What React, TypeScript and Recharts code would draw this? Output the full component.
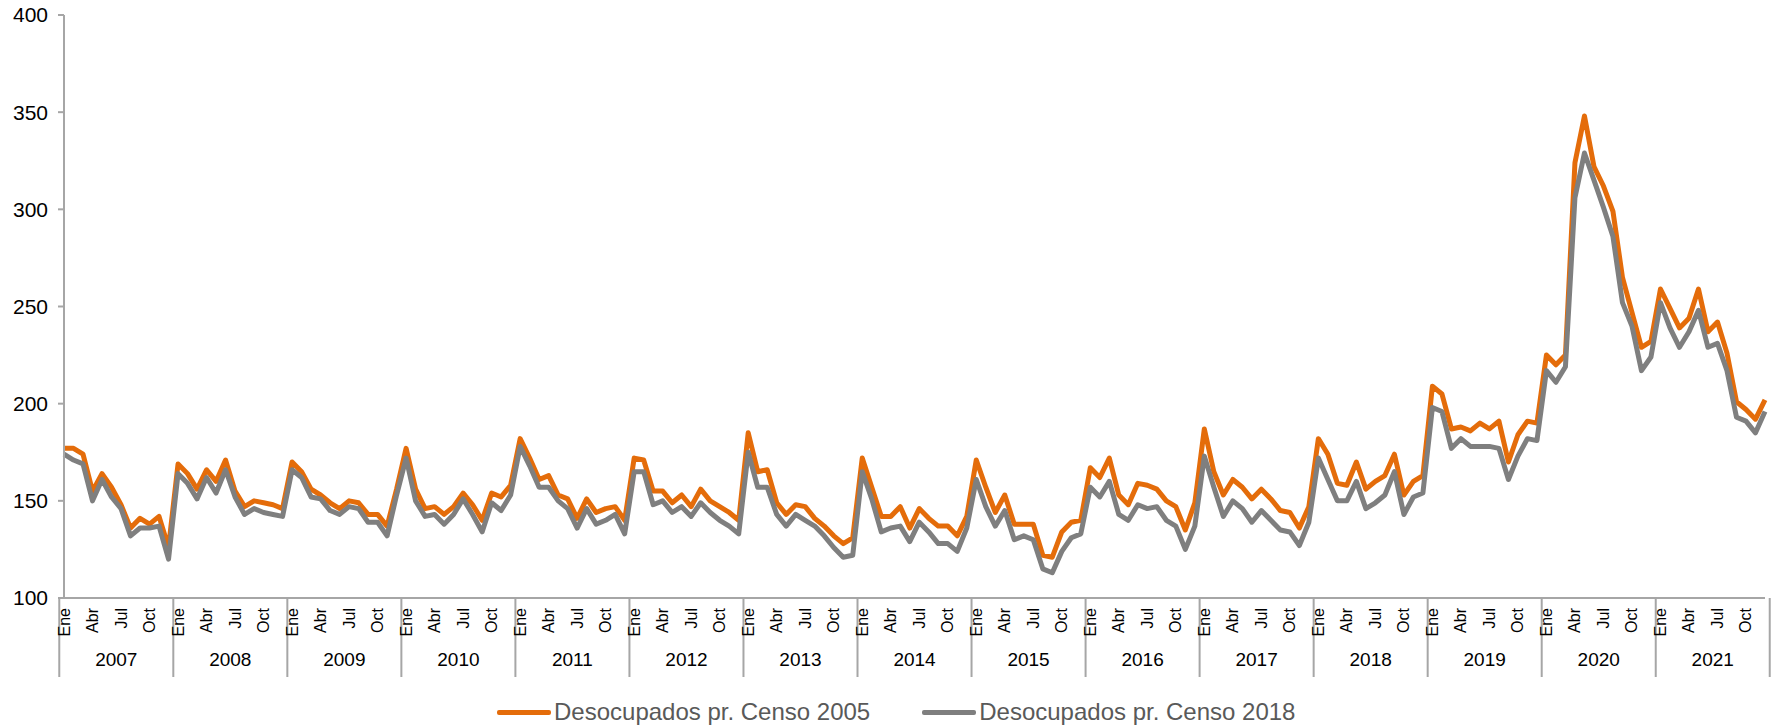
import { LineChart, Line, XAxis, YAxis } from "recharts"

const years = [2007, 2008, 2009, 2010, 2011, 2012, 2013, 2014, 2015, 2016, 2017, 2018, 2019, 2020, 2021]
const monthNames = ["Ene", "Feb", "Mar", "Abr", "May", "Jun", "Jul", "Ago", "Sep", "Oct", "Nov", "Dic"]
const yTicks = [100, 150, 200, 250, 300, 350, 400]

// Desocupados (miles), proyección Censo 2005
const censo2005 = [
  177, 177, 174, 155, 164, 157, 148, 136, 141, 138, 142, 126,
  169, 164, 156, 166, 160, 171, 155, 147, 150, 149, 148, 146,
  170, 165, 156, 153, 149, 146, 150, 149, 143, 143, 137, 156,
  177, 156, 146, 147, 143, 147, 154, 148, 140, 154, 152, 158,
  182, 172, 161, 163, 153, 151, 141, 151, 144, 146, 147, 140,
  172, 171, 155, 155, 149, 153, 147, 156, 150, 147, 144, 140,
  185, 165, 166, 149, 143, 148, 147, 141, 137, 132, 128, 131,
  172, 157, 142, 142, 147, 136, 146, 141, 137, 137, 132, 142,
  171, 157, 144, 153, 138, 138, 138, 122, 121, 134, 139, 140,
  167, 162, 172, 153, 148, 159, 158, 156, 150, 147, 135, 149,
  187, 165, 153, 161, 157, 151, 156, 151, 145, 144, 136, 147,
  182, 174, 159, 158, 170, 156, 160, 163, 174, 153, 160, 163,
  209, 205, 187, 188, 186, 190, 187, 191, 170, 184, 191, 190,
  225, 220, 225, 324, 348, 322, 312, 299, 265, 247, 229, 232,
  259, 249, 239, 244, 259, 237, 242, 226, 201, 197, 192, 202,
]

// Desocupados (miles), proyección Censo 2018
const censo2018 = [
  174, 171, 169, 150, 161, 152, 146, 132, 136, 136, 137, 120,
  164, 159, 151, 162, 154, 166, 152, 143, 146, 144, 143, 142,
  166, 162, 152, 151, 145, 143, 147, 146, 139, 139, 132, 153,
  172, 150, 142, 143, 138, 143, 151, 143, 134, 149, 145, 153,
  178, 168, 157, 157, 150, 146, 136, 146, 138, 140, 143, 133,
  165, 165, 148, 150, 144, 147, 142, 149, 144, 140, 137, 133,
  175, 157, 157, 143, 137, 143, 140, 137, 132, 126, 121, 122,
  165, 151, 134, 136, 137, 129, 139, 134, 128, 128, 124, 136,
  161, 147, 137, 145, 130, 132, 130, 115, 113, 124, 131, 133,
  157, 152, 160, 143, 140, 148, 146, 147, 140, 137, 125, 137,
  173, 157, 142, 150, 146, 139, 145, 140, 135, 134, 127, 139,
  172, 161, 150, 150, 160, 146, 149, 153, 165, 143, 152, 154,
  198, 196, 177, 182, 178, 178, 178, 177, 161, 173, 182, 181,
  217, 211, 219, 306, 329, 315, 301, 286, 252, 240, 217, 224,
  252, 239, 229, 237, 248, 229, 231, 217, 193, 191, 185, 196,
]

const data = years.flatMap((year, yi) =>
  monthNames.map((label, mi) => ({
    label,
    year,
    c2005: censo2005[yi * 12 + mi],
    c2018: censo2018[yi * 12 + mi],
  }))
)

const W = 1771
const H = 727
const AXIS_W = 64
const RIGHT = 6
const ORANGE = "#E46C0A"
const GREY = "#7F7F7F"
const AXIS = "#A6A6A6"
const FONT = "'Liberation Sans', Arial, sans-serif"

// width of one month band on the category axis
const band = (W - AXIS_W - RIGHT) / data.length

function MonthTick(props: any) {
  const { x, y, index, payload } = props
  const mi = index % 12
  return (
    <g>
      {mi === 0 && <line x1={x - band / 2} x2={x - band / 2} y1={y} y2={y + 79} stroke={AXIS} strokeWidth={2} />}
      {index === data.length - 1 && (
        <line x1={x + band / 2} x2={x + band / 2} y1={y} y2={y + 79} stroke={AXIS} strokeWidth={2} />
      )}
      {mi % 3 === 0 && (
        <text
          x={x}
          y={y + 10}
          transform={`rotate(-90, ${x}, ${y + 10})`}
          textAnchor="end"
          dominantBaseline="central"
          fontSize={16}
          fontFamily={FONT}
          fill="#000"
        >
          {payload.value}
        </text>
      )}
      {mi === 6 && (
        <text x={x - band / 2} y={y + 68} textAnchor="middle" fontSize={19} fontFamily={FONT} fill="#000">
          {data[index].year}
        </text>
      )}
    </g>
  )
}

function LegendItem({ color, text }: { color: string; text: string }) {
  return (
    <div style={{ display: "flex", alignItems: "center" }}>
      <div style={{ width: 54, height: 5, background: color, borderRadius: 2, marginRight: 3 }} />
      <span style={{ fontSize: 24, color: "#595959" }}>{text}</span>
    </div>
  )
}

export default function App() {
  return (
    <div style={{ position: "absolute", left: 0, top: 0, width: W, height: H, background: "#fff", fontFamily: FONT }}>
      <LineChart width={W} height={H} data={data} margin={{ top: 15, right: RIGHT, bottom: 0, left: 0 }}>
        <XAxis
          dataKey="label"
          interval={0}
          height={129}
          tickSize={0}
          tickMargin={0}
          tickLine={false}
          axisLine={{ stroke: AXIS, strokeWidth: 2 }}
          tick={(p: any) => <MonthTick {...p} />}
        />
        <YAxis
          width={AXIS_W}
          domain={[100, 400]}
          ticks={yTicks}
          interval={0}
          tickSize={6}
          tickMargin={10}
          axisLine={{ stroke: AXIS, strokeWidth: 2 }}
          tickLine={{ stroke: AXIS, strokeWidth: 2 }}
          tick={{ fontSize: 21, fill: "#000", fontFamily: FONT }}
        />
        <Line
          dataKey="c2005"
          name="Desocupados pr. Censo 2005"
          type="linear"
          stroke={ORANGE}
          strokeWidth={5}
          strokeLinejoin="round"
          dot={false}
          isAnimationActive={false}
        />
        <Line
          dataKey="c2018"
          name="Desocupados pr. Censo 2018"
          type="linear"
          stroke={GREY}
          strokeWidth={5}
          strokeLinejoin="round"
          dot={false}
          isAnimationActive={false}
        />
      </LineChart>
      <div style={{ position: "absolute", left: 497, top: 698, display: "flex", gap: 52 }}>
        <LegendItem color={ORANGE} text="Desocupados pr. Censo 2005" />
        <LegendItem color={GREY} text="Desocupados pr. Censo 2018" />
      </div>
    </div>
  )
}
